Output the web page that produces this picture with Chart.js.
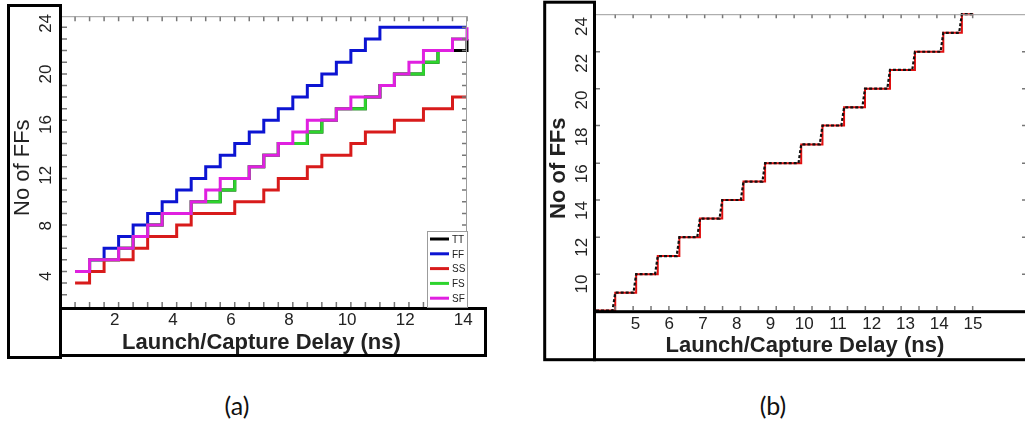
<!DOCTYPE html>
<html>
<head>
<meta charset="utf-8">
<script src="https://cdn.jsdelivr.net/npm/chart.js@4.4.1/dist/chart.umd.min.js"></script>
<style>
  html, body { margin: 0; padding: 0; background: #fff; }
  body { width: 1025px; height: 425px; overflow: hidden; position: relative; }
  canvas { position: absolute; top: 0; }
  #chartA { left: 0; }
  #chartB { left: 530px; }
  .caption { position: absolute; top: 390px; width: 60px; text-align: center; font: 25px Lato, sans-serif; color: #111; }
</style>
</head>
<body>
<canvas id="chartA" width="500" height="370"></canvas>
<canvas id="chartB" width="520" height="370"></canvas>
<div class="caption" style="left: 207px">(a)</div>
<div class="caption" style="left: 743px">(b)</div>
<script>
Chart.defaults.font.family = "'Liberation Sans', Arial, sans-serif";
Chart.defaults.color = '#222';

// ---- panel (a): corners per corner ----
const xLabelsA = [2, 4, 6, 8, 10, 12, 14];
const yLabelsA = [4, 8, 12, 16, 20, 24];
// delays where the curves switch level, and the levels they sit on
const delayGridA = [0.63, 1.13, 1.63, 2.13, 2.63, 3.13, 3.63, 4.13, 4.63, 5.13, 5.63, 6.13, 6.63, 7.13,
  7.63, 8.13, 8.63, 9.13, 9.63, 10.13, 10.63, 11.13, 11.63, 12.13, 12.63, 13.13, 13.63, 14.13];
const countGridA = [23.69, 22.77, 21.85, 20.93, 20.01, 19.10, 18.18, 17.26, 16.34, 15.42, 14.50, 13.58,
  12.66, 11.74, 10.82, 9.90, 8.98, 8.07, 7.15, 6.23, 5.31, 4.39, 3.47, 2.55];

const seriesNames = ['TT', 'FF', 'SS', 'FS', 'SF'];
const seriesColors = ['#000000', '#0c14d2', '#d81b1b', '#2dd42d', '#e020e0'];
const drawOrder = [4, 3, 2, 1, 0]; // SF on top, TT underneath

const ttDelay = [0.63, 1.13, 2.13, 2.63, 3.13, 3.63, 4.63, 5.63, 6.13, 6.63, 7.13, 7.63, 8.63, 9.13, 9.63,
  10.63, 11.13, 11.63, 12.63, 13.13, 14.13];
const ttCount = [4.39, 5.31, 6.23, 7.15, 8.07, 8.98, 9.90, 10.82, 11.74, 12.66, 13.58, 14.50, 15.42, 16.34,
  17.26, 18.18, 19.10, 20.01, 20.93, 21.85, 22.77];

const ffDelay = [0.63, 1.13, 1.63, 2.13, 2.63, 3.13, 3.63, 4.13, 4.63, 5.13, 5.63, 6.13, 6.63, 7.13, 7.63,
  8.13, 8.63, 9.13, 9.63, 10.13, 10.63, 11.13, 14.13];
const ffCount = [4.39, 5.31, 6.23, 7.15, 8.07, 8.98, 9.90, 10.82, 11.74, 12.66, 13.58, 14.50, 15.42, 16.34,
  17.26, 18.18, 19.10, 20.01, 20.93, 21.85, 22.77, 23.69, 23.69];

const ssDelay = [0.63, 1.13, 1.63, 2.63, 3.13, 4.13, 4.63, 6.13, 7.13, 7.63, 8.63, 9.13, 10.13, 10.63,
  11.63, 12.63, 13.63, 14.13];
const ssCount = [3.47, 4.39, 5.31, 6.23, 7.15, 8.07, 8.98, 9.90, 10.82, 11.74, 12.66, 13.58, 14.50, 15.42,
  16.34, 17.26, 18.18, 18.18];

const fsDelay = [0.63, 1.13, 2.13, 2.63, 3.13, 3.63, 4.63, 5.63, 6.13, 6.63, 7.13, 7.63, 8.63, 9.13, 9.63,
  10.63, 11.13, 11.63, 12.63, 13.13, 13.63, 14.13];
const fsCount = [4.39, 5.31, 6.23, 7.15, 8.07, 8.98, 9.90, 10.82, 11.74, 12.66, 13.58, 14.50, 15.42, 16.34,
  17.26, 18.18, 19.10, 20.01, 20.93, 21.85, 22.77, 22.77];

const sfDelay = [0.63, 1.13, 2.13, 2.63, 3.13, 3.63, 4.63, 5.13, 5.63, 6.63, 7.13, 7.63, 8.13, 8.63, 9.63,
  10.13, 11.13, 11.63, 12.13, 12.63, 13.63, 14.13];
const sfCount = [4.39, 5.31, 6.23, 7.15, 8.07, 8.98, 9.90, 10.82, 11.74, 12.66, 13.58, 14.50, 15.42, 16.34,
  17.26, 18.18, 19.10, 20.01, 20.93, 21.85, 22.77, 23.69];

// ---- panel (b): measured vs model ----
const xLabelsB = [5, 6, 7, 8, 9, 10, 11, 12, 13, 14, 15];
const yLabelsB = [10, 12, 14, 16, 18, 20, 22, 24];
const xMarksB = [4.40, 4.93, 5.46, 5.99, 6.52, 7.05, 7.58, 8.11, 8.64, 9.17, 9.70, 10.23, 10.76, 11.28,
  11.81, 12.34, 12.87, 13.40, 13.93, 14.46, 14.99];
const yMarksB = [10.54, 12.55, 14.57, 16.57, 18.62, 20.62, 22.63];

const redDelay = [3.83, 4.40, 5.02, 5.66, 6.30, 6.91, 7.57, 8.20, 8.84, 9.91, 10.54, 11.18, 11.80, 12.54,
  13.28, 14.12, 14.67, 15.01];
const redCount = [8.56, 9.53, 10.54, 11.52, 12.55, 13.56, 14.57, 15.57, 16.57, 17.59, 18.62, 19.61, 20.62,
  21.64, 22.63, 23.66, 24.67, 24.67];

const blackDelay = [3.83, 4.32, 4.40, 4.94, 5.02, 5.58, 5.66, 6.22, 6.30, 6.83, 6.91, 7.49, 7.57, 8.12, 8.20,
  8.76, 8.84, 9.83, 9.91, 10.46, 10.54, 11.10, 11.18, 11.72, 11.80, 12.46, 12.54, 13.20, 13.28, 14.04,
  14.12, 14.59, 14.67, 15.01];
const blackCount = [8.56, 8.56, 9.53, 9.53, 10.54, 10.54, 11.52, 11.52, 12.55, 12.55, 13.56, 13.56, 14.57,
  14.57, 15.57, 15.57, 16.57, 16.57, 17.59, 17.59, 18.62, 18.62, 19.61, 19.61, 20.62, 20.62, 21.64, 21.64,
  22.63, 22.63, 23.66, 23.66, 24.67, 24.67];

const pts = (xs, ys) => xs.map((x, i) => ({ x: x, y: ys[i] }));
const fixedTicks = values => scale => { scale.ticks = values.map(v => ({ value: v })); };

// gray top/right edge of the plot and short inward tick marks on all four sides
const plotEdges = {
  id: 'plotEdges',
  afterDatasetsDraw(chart, args, opts) {
    const { ctx, chartArea: a, scales } = chart;
    const len = opts.len;
    ctx.save();
    ctx.lineWidth = 1.5;
    ctx.strokeStyle = '#777777';
    ctx.beginPath();
    opts.marksX.forEach(v => {
      const px = scales.x.getPixelForValue(v);
      ctx.moveTo(px, a.top);
      ctx.lineTo(px, a.top + len);
      ctx.moveTo(px, a.bottom);
      ctx.lineTo(px, a.bottom - len);
    });
    opts.marksY.forEach(v => {
      const py = scales.y.getPixelForValue(v);
      ctx.moveTo(a.left, py);
      ctx.lineTo(a.left + len, py);
      ctx.moveTo(a.right, py);
      ctx.lineTo(a.right - len, py);
    });
    ctx.stroke();
    ctx.lineWidth = 1;
    ctx.strokeStyle = '#9c9c9c';
    ctx.beginPath();
    ctx.moveTo(a.left, a.top + 0.5);
    ctx.lineTo(a.right - 0.5, a.top + 0.5);
    ctx.lineTo(a.right - 0.5, a.bottom);
    ctx.stroke();
    ctx.restore();
  }
};

// black frames round the axis labels
const frames = {
  id: 'frames',
  afterDraw(chart, args, opts) {
    const ctx = chart.ctx;
    ctx.save();
    ctx.strokeStyle = '#000';
    ctx.lineWidth = 3;
    opts.boxes.forEach(b => ctx.strokeRect(b[0], b[1], b[2], b[3]));
    ctx.restore();
  }
};

// small legend in the lower right corner of the plot
const cornerLegend = {
  id: 'cornerLegend',
  afterDraw(chart, args, opts) {
    if (!opts.show) return;
    const { ctx, chartArea } = chart;
    const w = 40, h = 76;
    const left = chartArea.right - w, top = chartArea.bottom - h;
    ctx.save();
    ctx.fillStyle = '#fff';
    ctx.fillRect(left, top, w, h);
    ctx.strokeStyle = '#9c9c9c';
    ctx.lineWidth = 1;
    ctx.strokeRect(left + 0.5, top + 0.5, w, h);
    ctx.font = "10px 'Liberation Sans', Arial, sans-serif";
    ctx.textBaseline = 'middle';
    chart.data.datasets.forEach((ds, i) => {
      const y = top + 8 + i * 14.8;
      ctx.strokeStyle = ds.borderColor;
      ctx.lineWidth = 3;
      ctx.beginPath();
      ctx.moveTo(left + 3, y);
      ctx.lineTo(left + 22, y);
      ctx.stroke();
      ctx.fillStyle = '#222';
      ctx.fillText(ds.label, left + 25, y + 1);
    });
    ctx.restore();
  }
};

const seriesA = [pts(ttDelay, ttCount), pts(ffDelay, ffCount), pts(ssDelay, ssCount),
  pts(fsDelay, fsCount), pts(sfDelay, sfCount)];

new Chart(document.getElementById('chartA'), {
  type: 'line',
  data: {
    datasets: seriesA.map((d, i) => ({
      label: seriesNames[i],
      data: d,
      borderColor: seriesColors[i],
      borderWidth: 3,
      stepped: true,
      pointRadius: 0,
      order: drawOrder[i],
      clip: 4
    }))
  },
  options: {
    responsive: false,
    animation: false,
    devicePixelRatio: 1,
    layout: { padding: { left: 0, top: 12, right: 33, bottom: 14 } },
    plugins: {
      legend: { display: false },
      tooltip: { enabled: false },
      cornerLegend: { show: true },
      plotEdges: { marksX: delayGridA, marksY: countGridA, len: 5 },
      frames: { boxes: [[8.5, 5.5, 52, 352], [60.5, 308.5, 425, 47]] }
    },
    scales: {
      x: {
        type: 'linear', position: 'bottom', min: 0.18, max: 14.13,
        afterBuildTicks: fixedTicks(xLabelsA),
        afterFit: s => { s.height = 49; },
        grid: { display: false, drawTicks: false },
        border: { display: false },
        ticks: { font: { size: 17 }, padding: 3, autoSkip: false, maxRotation: 0 },
        title: { display: true, text: 'Launch/Capture Delay (ns) ', font: { size: 22, weight: 'bold' }, padding: 0 }
      },
      y: {
        type: 'linear', position: 'left', min: 1.58, max: 24.57,
        afterBuildTicks: fixedTicks(yLabelsA),
        afterFit: s => { s.width = 62; },
        grid: { display: false, drawTicks: false },
        border: { display: false },
        ticks: { font: { size: 17 }, padding: 6, minRotation: 90, maxRotation: 90, crossAlign: 'center', autoSkip: false },
        title: { display: true, text: 'No of FFs  ', font: { size: 22 }, padding: { top: 10, bottom: 0 } }
      }
    }
  },
  plugins: [plotEdges, frames, cornerLegend]
});

new Chart(document.getElementById('chartB'), {
  type: 'line',
  data: {
    datasets: [
      {
        label: 'model',
        data: pts(blackDelay, blackCount),
        borderColor: '#111111',
        borderWidth: 2.2,
        borderDash: [3, 2],
        pointRadius: 0,
        order: 0,
        clip: 4
      },
      {
        label: 'measured',
        data: pts(redDelay, redCount),
        borderColor: '#e01010',
        borderWidth: 2,
        stepped: true,
        pointRadius: 0,
        order: 1,
        clip: 4
      }
    ]
  },
  options: {
    responsive: false,
    animation: false,
    devicePixelRatio: 1,
    layout: { padding: { left: 0, top: 12, right: 24, bottom: 11 } },
    plugins: {
      legend: { display: false },
      tooltip: { enabled: false },
      cornerLegend: { show: false },
      plotEdges: { marksX: xMarksB, marksY: yMarksB, len: 4 },
      frames: { boxes: [[14.7, 2.2, 49.8, 357.5], [64.5, 311.7, 500, 48]] }
    },
    scales: {
      x: {
        type: 'linear', position: 'bottom', min: 3.83, max: 16.57,
        afterBuildTicks: fixedTicks(xLabelsB),
        afterFit: s => { s.height = 49; },
        grid: { display: false, drawTicks: false },
        border: { display: false },
        ticks: { font: { size: 17 }, padding: 4, autoSkip: false, maxRotation: 0 },
        title: { display: true, text: 'Launch/Capture Delay (ns)  ', font: { size: 22, weight: 'bold' }, padding: 0 }
      },
      y: {
        type: 'linear', position: 'left', min: 8.59, max: 24.67,
        afterBuildTicks: fixedTicks(yLabelsB),
        afterFit: s => { s.width = 66; },
        grid: { display: false, drawTicks: false },
        border: { display: false },
        ticks: { font: { size: 17 }, padding: 4, minRotation: 90, maxRotation: 90, crossAlign: 'center', autoSkip: false },
        title: { display: true, text: 'No of FFs  ', font: { size: 22, weight: 'bold' }, padding: { top: 16, bottom: 0 } }
      }
    }
  },
  plugins: [plotEdges, frames, cornerLegend]
});
</script>
</body>
</html>
